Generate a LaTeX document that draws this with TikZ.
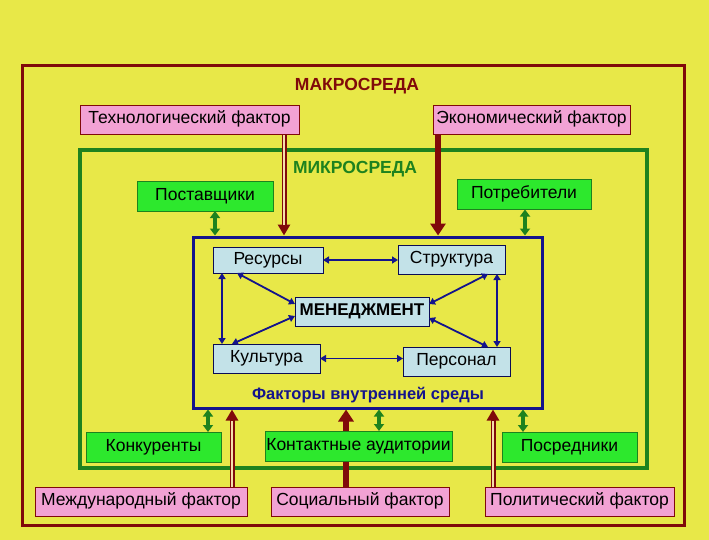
\documentclass[tikz,border=0pt]{standalone}
\usepackage{fontspec}
\setmainfont{Liberation Sans}
\usetikzlibrary{arrows.meta,calc}
\definecolor{bg}{RGB}{232,232,72}
\definecolor{dred}{RGB}{128,10,10}
\definecolor{dgreen}{RGB}{30,130,30}
\definecolor{navy}{RGB}{20,20,140}
\definecolor{pinkbox}{RGB}{242,162,212}
\definecolor{greenbox}{RGB}{45,232,45}
\definecolor{bluebox}{RGB}{195,226,232}
\definecolor{dblin}{RGB}{245,222,170}
\tikzset{
  boxtext/.style={font=\fontsize{17.5}{19}\selectfont, inner sep=0pt, outer sep=0pt, text depth=0.05em, text height=0.9em},
  pbox/.style={boxtext, draw=dred, fill=pinkbox, line width=0.8pt, minimum height=29pt},
  gbox/.style={boxtext, draw=dgreen, fill=greenbox, line width=0.8pt, minimum height=30pt},
  bbox/.style={boxtext, draw=navy!60!black, fill=bluebox, line width=0.8pt, minimum height=29pt},
  title/.style={font=\fontsize{17.5}{19}\selectfont\bfseries},
  garrow/.style={draw=dgreen, line width=3.5pt, {Triangle[length=7pt,width=10pt]}-{Triangle[length=7pt,width=10pt]}},
  barrow/.style={draw=navy, line width=1.8pt, {Triangle[length=6pt,width=7pt]}-{Triangle[length=6pt,width=7pt]}},
  thickarrow/.style={draw=dred, line width=6pt, -{Triangle[length=12pt,width=15pt]}},
  dblout/.style={draw=dred, line width=5pt, -{Triangle[length=11pt,width=12pt]}},
  dblinner/.style={draw=dblin, line width=1.6pt, shorten >=11pt},
}
\begin{document}
\begin{tikzpicture}[x=1pt,y=-1pt]
\fill[bg] (0,0) rectangle (709,540);
\useasboundingbox (0,0) rectangle (709,540);
% frames
\draw[dred, line width=3pt] (22,66) rectangle (684,525);
\draw[dgreen, line width=3.5pt] (80,150) rectangle (647,468);
\node[draw=navy, line width=3pt, minimum width=349pt, minimum height=171pt, inner sep=0pt] (inner) at (367.5,322.5) {};
% titles
\node[title, text=dred] (macro) at (357,86) {МАКРОСРЕДА};
\node[title, text=dgreen] (micro) at (355,169) {МИКРОСРЕДА};
\node[font=\fontsize{16.5}{18}\selectfont\bfseries, text=navy] (inttitle) at (368,395) {Факторы внутренней среды};
% coordinates for connectors
\coordinate (xt) at (284,0);
\coordinate (xe) at (438,0);
\coordinate (xs) at (215,0);
\coordinate (xc) at (525,0);
\coordinate (xk) at (208,0);
\coordinate (xm) at (232,0);
\coordinate (xso) at (346,0);
\coordinate (xka) at (379,0);
\coordinate (xp) at (493,0);
\coordinate (xpo) at (523,0);
% box positions
\path
  node[pbox, minimum width=219pt] (tech) at (189.5,119.5) {Технологический фактор}
  node[pbox, minimum width=197pt] (econ) at (531.5,119.5) {Экономический фактор}
  node[gbox, minimum width=136pt] (supp) at (205,196) {Поставщики}
  node[gbox, minimum width=134pt] (cons) at (524,194.5) {Потребители}
  node[gbox, minimum width=135pt] (konk) at (153.5,447) {Конкуренты}
  node[gbox, minimum width=187pt] (kont) at (358.5,446) {Контактные аудитории}
  node[gbox, minimum width=135pt] (posr) at (569.5,447) {Посредники}
  node[pbox, minimum width=212pt] (mezh) at (141,501.5) {Международный фактор}
  node[pbox, minimum width=178pt] (soc) at (360,501.5) {Социальный фактор}
  node[pbox, minimum width=189pt] (pol) at (579.5,501.5) {Политический фактор};
% external arrows
\draw[dblout] (tech.south -| xt) -- (inner.north -| xt);
\draw[dblinner] (tech.south -| xt) -- (inner.north -| xt);
\draw[thickarrow] (econ.south -| xe) -- (inner.north -| xe);
\draw[garrow] (supp.south -| xs) -- (inner.north -| xs);
\draw[garrow] (cons.south -| xc) -- (inner.north -| xc);
\draw[garrow] (inner.south -| xk) -- (konk.north -| xk);
\draw[dblout] (mezh.north -| xm) -- (inner.south -| xm);
\draw[dblinner] (mezh.north -| xm) -- (inner.south -| xm);
\draw[thickarrow] (soc.north -| xso) -- (inner.south -| xso);
\draw[garrow] (inner.south -| xka) -- (kont.north -| xka);
\draw[dblout] (pol.north -| xp) -- (inner.south -| xp);
\draw[dblinner] (pol.north -| xp) -- (inner.south -| xp);
\draw[garrow] (inner.south -| xpo) -- (posr.north -| xpo);
% redraw boxes on top of the connectors
\path
  node[pbox, minimum width=219pt] at (tech) {Технологический фактор}
  node[pbox, minimum width=197pt] at (econ) {Экономический фактор}
  node[gbox, minimum width=136pt] at (supp) {Поставщики}
  node[gbox, minimum width=134pt] at (cons) {Потребители}
  node[gbox, minimum width=135pt] at (konk) {Конкуренты}
  node[gbox, minimum width=187pt] at (kont) {Контактные аудитории}
  node[gbox, minimum width=135pt] at (posr) {Посредники}
  node[pbox, minimum width=212pt] at (mezh) {Международный фактор}
  node[pbox, minimum width=178pt] at (soc) {Социальный фактор}
  node[pbox, minimum width=189pt] at (pol) {Политический фактор};
% inner boxes
\node[bbox, minimum width=110pt, minimum height=26pt] (res) at (268,260) {Ресурсы};
\node[bbox, minimum width=107pt] (str) at (451.5,259.5) {Структура};
\node[bbox, minimum width=134pt, font=\fontsize{17}{19}\selectfont\bfseries] (men) at (362,311.5) {МЕНЕДЖМЕНТ};
\node[bbox, minimum width=107pt] (kul) at (266.5,358.5) {Культура};
\node[bbox, minimum width=107pt] (pers) at (456.5,361.5) {Персонал};
% inner arrows
\draw[barrow] (res.east) -- (res.east -| str.west);
\draw[barrow] (kul.east) -- (kul.east -| pers.west);
\coordinate (v1) at ($(res.south west)+(9,0)$);
\coordinate (v2) at ($(str.south east)+(-8,0)$);
\draw[barrow] (v1) -- (v1 |- kul.north);
\draw[barrow] (v2) -- (v2 |- pers.north);
\draw[barrow] ($(res.south west)+(24,0)$) -- ($(men.north west)+(0,7)$);
\draw[barrow] ($(str.south east)+(-17,0)$) -- ($(men.north east)+(0,7)$);
\draw[barrow] ($(kul.north west)+(19,0)$) -- ($(men.south west)+(0,-10)$);
\draw[barrow] ($(pers.north east)+(-22,0)$) -- ($(men.south east)+(0,-8)$);
\end{tikzpicture}
\end{document}
